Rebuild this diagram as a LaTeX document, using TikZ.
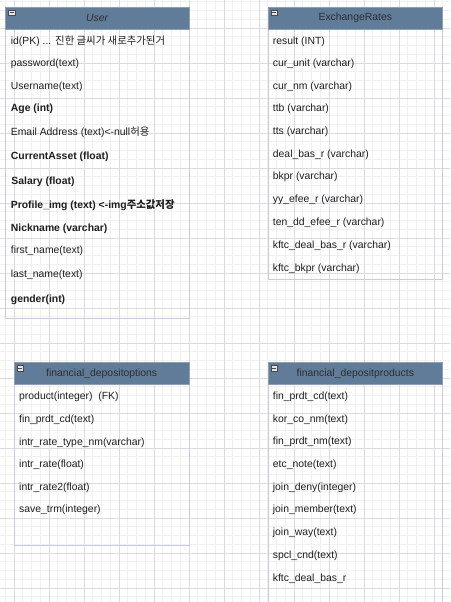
\documentclass[tikz,border=0pt]{standalone}
\usepackage{fontspec}
\setmainfont{Liberation Sans}
\newfontfamily\krfont{Noto Sans CJK KR}

\definecolor{gridlight}{HTML}{F1F1F4}
\definecolor{griddark}{HTML}{DADADF}
\definecolor{tableline}{HTML}{CBCBDE}
\definecolor{headfill}{HTML}{617C98}
\definecolor{headline}{HTML}{8E9FB4}
\definecolor{headtext}{HTML}{2E2E33}
\definecolor{fieldtext}{HTML}{1E1E1E}
\definecolor{togglefill}{HTML}{E4E4E4}
\definecolor{toggleline}{HTML}{4A4A4A}

\tikzset{
  gridminor/.style={draw=gridlight, line width=0.6},
  gridmajor/.style={draw=griddark, line width=0.8},
  tablebox/.style={draw=tableline, line width=1},
  headbox/.style={fill=headfill, draw=headline, line width=0.8},
  headtitle/.style={inner sep=0pt, font=\fontsize{10.4}{12}\selectfont, text=headtext},
  field/.style={anchor=west, inner sep=0pt, font=\fontsize{10.4}{12}\selectfont, text=fieldtext},
  togglebox/.style={fill=togglefill, draw=toggleline, line width=0.6},
}

\begin{document}
\begin{tikzpicture}[x=1pt, y=-1pt]
% Fix the page size (450 x 602 px)
\clip (0, 0) rectangle (450, 602);
\fill[white] (0, 0) rectangle (450, 602);

% Background grid
\foreach \gx in {5.25, 14, ..., 450} \draw[gridminor] (\gx, 0) -- (\gx, 602);
\foreach \gy in {1.75, 10.5, ..., 602} \draw[gridminor] (0, \gy) -- (450, \gy);
\foreach \gx in {14, 49, ..., 450} \draw[gridmajor] (\gx, 0) -- (\gx, 602);
\foreach \gy in {28, 63, ..., 602} \draw[gridmajor] (0, \gy) -- (450, \gy);

% Table: User
\draw[tablebox] (5.7, 7.3) rectangle (189, 318);
\draw[headbox] (5.7, 7.3) rectangle (189, 29);
\draw[togglebox] (8.5, 10) rectangle (15, 15.5);
\draw[toggleline, line width=1] (9.8, 12.8) -- (13.7, 12.8);
\node[headtitle] (usertitle) at (97.3, 18.3) {\textit{User}};
\node[field] (user1) at (10.7, 41.7) {id(PK) ... {\krfont 진한 글씨가 새로추가된거}};
\node[field] (user2) at (10.7, 64) {password(text)};
\node[field] (user3) at (10.7, 86.7) {Username(text)};
\node[field] (user4) at (10.7, 109.3) {\textbf{Age (int)}};
\node[field] (user5) at (10.7, 132.3) {Email Address (text)<-null{\krfont 허용}};
\node[field] (user6) at (10.7, 157.3) {\textbf{CurrentAsset (float)}};
\node[field] (user7) at (11.3, 181.7) {\textbf{Salary (float)}};
\node[field] (user8) at (10.7, 205) {\textbf{Profile\_img (text) <-img{\krfont 주소값저장}}};
\node[field] (user9) at (10.7, 228.7) {\textbf{Nickname (varchar)}};
\node[field] (user10) at (10.7, 251) {first\_name(text)};
\node[field] (user11) at (10.7, 275.3) {last\_name(text)};
\node[field] (user12) at (10.7, 300) {\textbf{gender(int)}};

% Table: ExchangeRates
\draw[tablebox] (268, 7.3) rectangle (442.7, 279.3);
\draw[headbox] (268, 7.3) rectangle (442.7, 29);
\draw[togglebox] (270.8, 10) rectangle (277.3, 15.5);
\draw[toggleline, line width=1] (272.1, 12.8) -- (276, 12.8);
\node[headtitle] (ratetitle) at (355.3, 18.3) {ExchangeRates};
\node[field] (rate1) at (272.7, 41.7) {result (INT)};
\node[field] (rate2) at (272.7, 64) {cur\_unit (varchar)};
\node[field] (rate3) at (272.7, 86.7) {cur\_nm (varchar)};
\node[field] (rate4) at (272.7, 109) {ttb (varchar)};
\node[field] (rate5) at (272.7, 132) {tts (varchar)};
\node[field] (rate6) at (272.7, 155) {deal\_bas\_r (varchar)};
\node[field] (rate7) at (272.7, 177.3) {bkpr (varchar)};
\node[field] (rate8) at (272.7, 200.3) {yy\_efee\_r (varchar)};
\node[field] (rate9) at (272.7, 223) {ten\_dd\_efee\_r (varchar)};
\node[field] (rate10) at (272.7, 246.3) {kftc\_deal\_bas\_r (varchar)};
\node[field] (rate11) at (272.7, 268.7) {kftc\_bkpr (varchar)};

% Table: financial_depositoptions
\draw[tablebox] (14.3, 362.7) rectangle (189, 545);
\draw[headbox] (14.3, 362.7) rectangle (189, 384.3);
\draw[togglebox] (17, 365.3) rectangle (23.5, 370.8);
\draw[toggleline, line width=1] (18.3, 368.1) -- (22.2, 368.1);
\node[headtitle] (opttitle) at (101.7, 373.7) {financial\_depositoptions};
\node[field] (opt1) at (19, 396.7) {product(integer)\ \ (FK)};
\node[field] (opt2) at (19, 420) {fin\_prdt\_cd(text)};
\node[field] (opt3) at (19, 442.7) {intr\_rate\_type\_nm(varchar)};
\node[field] (opt4) at (19, 464.7) {intr\_rate(float)};
\node[field] (opt5) at (19, 487.7) {intr\_rate2(float)};
\node[field] (opt6) at (19, 510.3) {save\_trm(integer)};

% Table: financial_depositproducts
\draw[tablebox] (268, 362.7) rectangle (442.7, 620);
\draw[headbox] (268, 362.7) rectangle (442.7, 384.3);
\draw[togglebox] (270.8, 365.3) rectangle (277.3, 370.8);
\draw[toggleline, line width=1] (272.1, 368.1) -- (276, 368.1);
\node[headtitle] (prodtitle) at (355.3, 373.7) {financial\_depositproducts};
\node[field] (prod1) at (272.7, 396.7) {fin\_prdt\_cd(text)};
\node[field] (prod2) at (272.7, 419.7) {kor\_co\_nm(text)};
\node[field] (prod3) at (272.7, 442) {fin\_prdt\_nm(text)};
\node[field] (prod4) at (272.7, 464.7) {etc\_note(text)};
\node[field] (prod5) at (272.7, 487.7) {join\_deny(integer)};
\node[field] (prod6) at (272.7, 510.3) {join\_member(text)};
\node[field] (prod7) at (272.7, 533) {join\_way(text)};
\node[field] (prod8) at (272.7, 555.7) {spcl\_cnd(text)};
\node[field] (prod9) at (272.7, 578.3) {kftc\_deal\_bas\_r};
\end{tikzpicture}
\end{document}
